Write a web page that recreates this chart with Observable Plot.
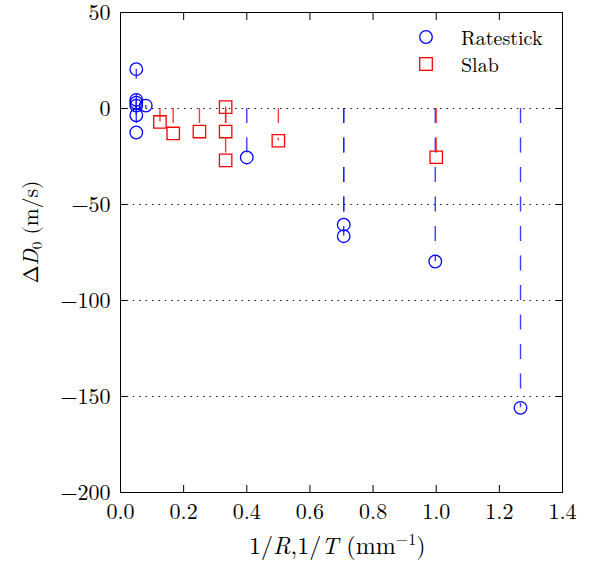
<!DOCTYPE html>
<html>
<head>
<meta charset="utf-8">
<script src="https://cdn.jsdelivr.net/npm/d3@7"></script>
<script src="https://cdn.jsdelivr.net/npm/@observablehq/plot@0.6"></script>
<style>
  html, body { margin: 0; padding: 0; background: #fff; }
  #wrap { position: relative; width: 592px; height: 569px; color: #000; }
  .lbl { position: absolute; white-space: nowrap; line-height: 1; }
</style>
</head>
<body>
<div id="wrap"></div>
<script>
// Ratestick (blue circles)
const rateX = [0.05, 0.05, 0.05, 0.05, 0.05, 0.05, 0.08, 0.40, 0.707, 0.707, 0.997, 1.267];
const rateY = [20.5, 4.5, 3.0, 1.5, -3.5, -12.5, 1.5, -25.5, -60.5, -66.5, -79.7, -155.9];
// Slab (red squares)
const slabX = [0.125, 0.167, 0.25, 0.333, 0.333, 0.333, 0.50, 1.0];
const slabY = [-7.0, -13.0, -12.0, 0.7, -12.0, -27.0, -16.8, -25.4];

const xTicks = [0, 0.2, 0.4, 0.6, 0.8, 1.0, 1.2, 1.4];
const yTicks = [50, 0, -50, -100, -150, -200];
const gridY = [0, -50, -100, -150];

const rate = rateX.map((x, i) => ({x, y: rateY[i]}));
const slab = slabX.map((x, i) => ({x, y: slabY[i]}));

const FONT = "Latin Modern Roman";
const fmtY = d => d < 0 ? "\u2212" + Math.abs(d) : String(d);
const FS = 22;
const TK = 7;

const chart = Plot.plot({
  width: 592,
  height: 569,
  marginLeft: 120,
  marginRight: 30,
  marginTop: 12,
  marginBottom: 77,
  style: {fontFamily: FONT, fontSize: FS + "px", background: "#fff", color: "#000", overflow: "visible"},
  x: {domain: [0, 1.4]},
  y: {domain: [-200, 50]},
  marks: [
    Plot.ruleY(gridY, {stroke: "#000", strokeWidth: 1, strokeDasharray: "1.4,5"}),
    Plot.ruleX(rate, {x: "x", y1: 0, y2: "y", stroke: "#1a1aff", strokeWidth: 1.4, strokeDasharray: "15,14.5", strokeOpacity: 0.85}),
    Plot.ruleX(slab, {x: "x", y1: 0, y2: "y", stroke: "#ff1a1a", strokeWidth: 1.4, strokeDasharray: "15,14.5", strokeOpacity: 0.85}),
    Plot.dot(rate, {x: "x", y: "y", r: 6.3, symbol: "circle", stroke: "#0000ff", fill: "none", strokeWidth: 1.3}),
    Plot.dot(slab, {x: "x", y: "y", r: 7.0, symbol: "square", stroke: "#ff0000", fill: "none", strokeWidth: 1.3}),
    // inward ticks on all sides
    Plot.axisX({anchor: "bottom", ticks: xTicks, tickSize: TK, dy: -TK, tickFormat: () => "", label: null}),
    Plot.axisX({anchor: "top", ticks: xTicks, tickSize: TK, dy: TK, tickFormat: () => "", label: null}),
    Plot.axisY({anchor: "left", ticks: yTicks, tickSize: TK, dx: TK, tickFormat: () => "", label: null}),
    Plot.axisY({anchor: "right", ticks: yTicks, tickSize: TK, dx: -TK, tickFormat: () => "", label: null}),
    // tick labels
    Plot.axisX({anchor: "bottom", ticks: xTicks, tickSize: 0, tickPadding: 11, tickFormat: d3.format(".1f"), fontSize: FS, label: null}),
    Plot.axisY({anchor: "left", ticks: yTicks, tickSize: 0, tickPadding: 10, tickFormat: fmtY, fontSize: FS, label: null}),
    Plot.frame({stroke: "#000", strokeWidth: 1})
  ]
});

chart.setAttribute("font-family", FONT);
chart.style.fontFamily = FONT;
chart.querySelectorAll("text").forEach(t => { t.setAttribute("font-family", FONT); t.style.fontFamily = FONT; });

const wrap = document.getElementById("wrap");
wrap.appendChild(chart);

function addLabel(html, size) {
  const d = document.createElement("div");
  d.className = "lbl";
  d.style.fontFamily = FONT;
  d.style.fontSize = size + "px";
  d.innerHTML = html;
  wrap.appendChild(d);
  return d;
}

// x axis label
const xl = addLabel('1/<i>R</i>,1/<i>T</i> (mm<sup style="font-size:16px;vertical-align:9px;">\u22121</sup>)', 24);
xl.style.top = "531px";
xl.style.left = (337 - xl.offsetWidth / 2) + "px";

// y axis label (rotated)
const yl = addLabel('\u0394<i>D</i><sub style="font-size:15px;vertical-align:-4px;">0</sub> (m/s)', 21.5);
const w = yl.offsetWidth, h = yl.offsetHeight;
yl.style.left = (31 - w / 2) + "px";
yl.style.top = (232 - h / 2) + "px";
yl.style.transform = "rotate(-90deg)";

// legend
const legend = document.createElement("div");
legend.style.position = "absolute";
legend.style.left = "0px";
legend.style.top = "0px";
legend.innerHTML = `
<svg width="592" height="100" style="position:absolute;left:0;top:0;overflow:visible">
  <circle cx="426" cy="37" r="6.3" fill="none" stroke="#0000ff" stroke-width="1.3"></circle>
  <rect x="419.7" y="57.7" width="12.6" height="12.6" fill="none" stroke="#ff0000" stroke-width="1.3"></rect>
  <text x="461" y="45" font-size="20" font-family="${FONT}">Ratestick</text>
  <text x="461" y="72" font-size="20" font-family="${FONT}">Slab</text>
</svg>`;
wrap.appendChild(legend);
</script>
</body>
</html>
